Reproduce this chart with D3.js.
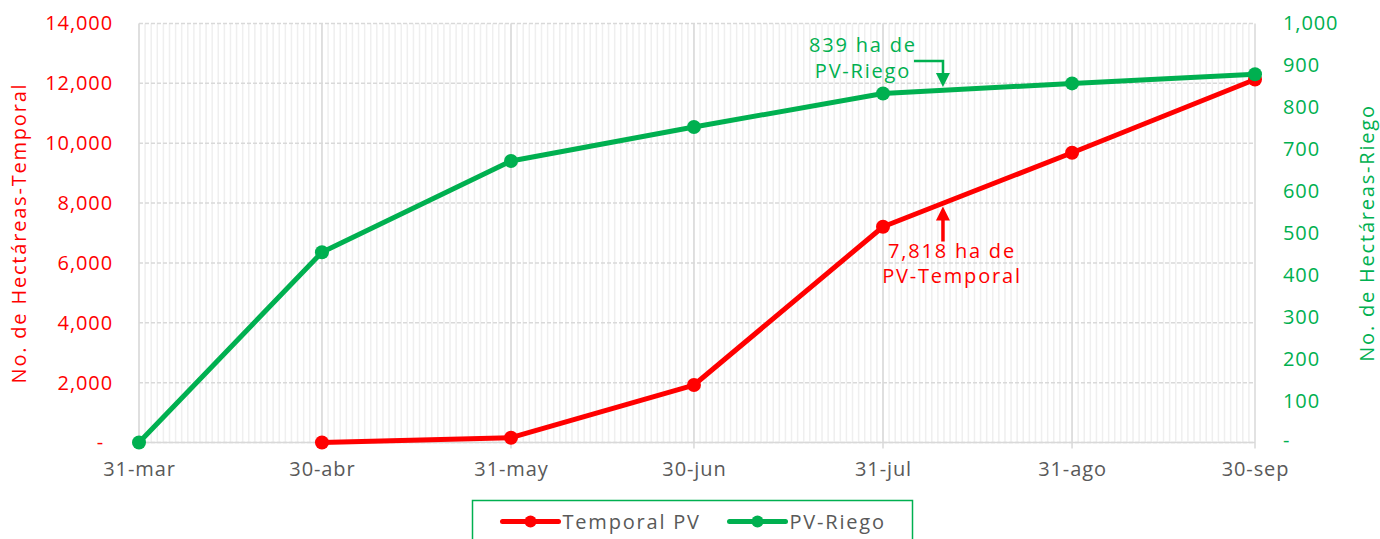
<!DOCTYPE html>
<html>
<head>
<meta charset="utf-8">
<script src="https://cdn.jsdelivr.net/npm/d3@7"></script>
<style>
  body { margin: 0; background: #fff; }
  text { font-family: "Open Sans", sans-serif; letter-spacing: 0.9px; }
  .ancho { letter-spacing: 1.8px; }
</style>
</head>
<body>
<div id="chart"></div>
<script>
// data
var fechas = ["2021-03-31", "2021-04-30", "2021-05-31", "2021-06-30", "2021-07-31", "2021-08-31", "2021-09-30"];
var temporal = [null, 0, 160, 1920, 7210, 9680, 12130];
var riego = [0, 454, 672, 753, 833, 857, 879];
var meses = ["ene", "feb", "mar", "abr", "may", "jun", "jul", "ago", "sep", "oct", "nov", "dic"];
var ticksTemporal = [0, 2000, 4000, 6000, 8000, 10000, 12000, 14000];
var ticksRiego = [0, 100, 200, 300, 400, 500, 600, 700, 800, 900, 1000];
var seriesNombres = ["Temporal PV", "PV-Riego"];
var notaFecha = "2021-08-09T20:00";
var notaTemporal = 7818;
var notaRiego = 839;

var ROJO = "#ff0000", VERDE = "#00b050", GRIS = "#595959";

var W = 1380, H = 539;
var margin = {top: 23.5, right: 125, bottom: 96.5, left: 139};
var width = W - margin.left - margin.right,
    height = H - margin.top - margin.bottom;

var parse = d3.isoParse;
var dias = fechas.map(parse);

var svg = d3.select("#chart").append("svg")
    .attr("width", W)
    .attr("height", H);

var g = svg.append("g")
    .attr("transform", "translate(" + margin.left + "," + margin.top + ")");

var x = d3.scaleTime()
    .domain([dias[0], dias[dias.length - 1]])
    .range([0, width]);

var yT = d3.scaleLinear().domain([0, 14000]).range([height, 0]);
var yR = d3.scaleLinear().domain([0, 1000]).range([height, 0]);

// minor daily gridlines
g.append("g")
  .selectAll("line")
  .data(d3.timeDay.range(dias[0], dias[dias.length - 1]))
  .enter().append("line")
    .attr("x1", function(d) { return x(d); })
    .attr("x2", function(d) { return x(d); })
    .attr("y1", 0).attr("y2", height)
    .attr("stroke", "#efefef")
    .attr("stroke-width", 1.5);

// horizontal dashed gridlines
g.append("g")
  .selectAll("line")
  .data(ticksTemporal)
  .enter().append("line")
    .attr("x1", 0).attr("x2", width)
    .attr("y1", function(d) { return yT(d); })
    .attr("y2", function(d) { return yT(d); })
    .attr("stroke", "#d9d9d9")
    .attr("stroke-width", 1.5)
    .attr("stroke-dasharray", "4,2");

// major vertical gridlines (month ends)
g.append("g")
  .selectAll("line")
  .data(dias)
  .enter().append("line")
    .attr("x1", function(d) { return x(d); })
    .attr("x2", function(d) { return x(d); })
    .attr("y1", 0).attr("y2", height + 6)
    .attr("stroke", "#d9d9d9")
    .attr("stroke-width", 1.5);

// bottom axis line
g.append("line")
  .attr("x1", 0).attr("x2", width)
  .attr("y1", height).attr("y2", height)
  .attr("stroke", "#d9d9d9")
  .attr("stroke-width", 1.5);

// X axis
var fmtFecha = function(d) { return d.getDate() + "-" + meses[d.getMonth()]; };
var xAxis = g.append("g")
  .attr("transform", "translate(0," + height + ")")
  .call(d3.axisBottom(x).tickValues(dias).tickFormat(fmtFecha).tickSize(0).tickPadding(19));
xAxis.select(".domain").remove();
xAxis.selectAll("text")
  .attr("fill", GRIS)
  .style("font-size", "20px");

// left Y axis
var fmtNum = function(d) { return d === 0 ? "-" : d3.format(",")(d); };
var yAxisL = g.append("g")
  .call(d3.axisLeft(yT).tickValues(ticksTemporal).tickFormat(fmtNum).tickSize(0).tickPadding(26));
yAxisL.select(".domain").remove();
yAxisL.selectAll("text")
  .attr("fill", ROJO)
  .style("font-size", "20px");
yAxisL.selectAll(".tick").filter(function(d) { return d === 0; }).select("text")
  .attr("dx", -9);

// right Y axis
var yAxisR = g.append("g")
  .attr("transform", "translate(" + width + ",0)")
  .call(d3.axisRight(yR).tickValues(ticksRiego).tickFormat(fmtNum).tickSize(0).tickPadding(28));
yAxisR.select(".domain").remove();
yAxisR.selectAll("text")
  .attr("fill", VERDE)
  .style("font-size", "20px");
yAxisR.selectAll(".tick").filter(function(d) { return d === 0; }).select("text")
  .attr("dy", "0.2em");

// axis titles
svg.append("text")
  .attr("class", "ancho")
  .attr("transform", "translate(26," + (margin.top + height / 2) + ") rotate(-90)")
  .attr("text-anchor", "middle")
  .attr("fill", ROJO)
  .style("font-size", "20px")
  .text("No. de Hectáreas-Temporal");

svg.append("text")
  .attr("class", "ancho")
  .attr("transform", "translate(1374," + (margin.top + height / 2) + ") rotate(-90)")
  .attr("text-anchor", "middle")
  .attr("fill", VERDE)
  .style("font-size", "20px")
  .text("No. de Hectáreas-Riego");

// lines
var datosT = dias.map(function(d, i) { return {fecha: d, v: temporal[i]}; })
  .filter(function(d) { return d.v !== null; });
var datosR = dias.map(function(d, i) { return {fecha: d, v: riego[i]}; });

var lineT = d3.line().x(function(d) { return x(d.fecha); }).y(function(d) { return yT(d.v); });
var lineR = d3.line().x(function(d) { return x(d.fecha); }).y(function(d) { return yR(d.v); });

g.append("path").datum(datosT)
  .attr("d", lineT)
  .attr("fill", "none")
  .attr("stroke", ROJO)
  .attr("stroke-width", 5)
  .attr("stroke-linejoin", "round");

g.selectAll(".dotT").data(datosT).enter().append("circle")
  .attr("class", "dotT")
  .attr("cx", function(d) { return x(d.fecha); })
  .attr("cy", function(d) { return yT(d.v); })
  .attr("r", 7)
  .attr("fill", ROJO);

g.append("path").datum(datosR)
  .attr("d", lineR)
  .attr("fill", "none")
  .attr("stroke", VERDE)
  .attr("stroke-width", 5)
  .attr("stroke-linejoin", "round");

g.selectAll(".dotR").data(datosR).enter().append("circle")
  .attr("class", "dotR")
  .attr("cx", function(d) { return x(d.fecha); })
  .attr("cy", function(d) { return yR(d.v); })
  .attr("r", 7)
  .attr("fill", VERDE);

// annotations
var xn = x(parse(notaFecha));

// red: arrow pointing up to the line
var tipT = yT(notaTemporal) - 2;
g.append("line")
  .attr("x1", xn).attr("x2", xn)
  .attr("y1", tipT + 12).attr("y2", tipT + 35)
  .attr("stroke", ROJO).attr("stroke-width", 3.5);
g.append("path")
  .attr("d", "M" + xn + "," + tipT + "l-7,14l14,0z")
  .attr("fill", ROJO);
var notaT = g.append("text")
  .attr("class", "ancho")
  .attr("x", xn + 9)
  .attr("y", tipT + 51)
  .attr("text-anchor", "middle")
  .attr("fill", ROJO)
  .style("font-size", "20px");
notaT.append("tspan").attr("x", xn + 9).text(d3.format(",")(notaTemporal) + " ha de");
notaT.append("tspan").attr("x", xn + 9).attr("dy", 25).text("PV-Temporal");

// green: elbow arrow pointing down to the line
var tipR = yR(notaRiego) - 4;
g.append("path")
  .attr("d", "M" + (xn - 29) + "," + (tipR - 26) + "H" + xn + "V" + (tipR - 12))
  .attr("fill", "none")
  .attr("stroke", VERDE).attr("stroke-width", 2.5);
g.append("path")
  .attr("d", "M" + xn + "," + tipR + "l-7,-14l14,0z")
  .attr("fill", VERDE);
var notaR = g.append("text")
  .attr("class", "ancho")
  .attr("x", xn - 80)
  .attr("y", tipR - 35)
  .attr("text-anchor", "middle")
  .attr("fill", VERDE)
  .style("font-size", "20px");
notaR.append("tspan").attr("x", xn - 80).text(notaRiego + " ha de");
notaR.append("tspan").attr("x", xn - 80).attr("dy", 26).text("PV-Riego");

// legend
var legend = svg.append("g").attr("transform", "translate(472.5,500.5)");
legend.append("rect")
  .attr("width", 440).attr("height", 50)
  .attr("fill", "#fff")
  .attr("stroke", VERDE)
  .attr("stroke-width", 1.5);

var colores = [ROJO, VERDE];
var items = legend.selectAll(".item").data(seriesNombres).enter().append("g")
  .attr("class", "item")
  .attr("transform", function(d, i) { return "translate(" + (30 + i * 227) + ",21)"; });
items.append("line")
  .attr("x1", 0).attr("x2", 56)
  .attr("stroke", function(d, i) { return colores[i]; })
  .attr("stroke-width", 5)
  .attr("stroke-linecap", "round");
items.append("circle")
  .attr("cx", 28).attr("r", 6)
  .attr("fill", function(d, i) { return colores[i]; });
items.append("text")
  .attr("class", "ancho")
  .attr("x", 60).attr("dy", "0.35em")
  .attr("fill", GRIS)
  .style("font-size", "20px")
  .text(function(d) { return d; });
</script>
</body>
</html>
